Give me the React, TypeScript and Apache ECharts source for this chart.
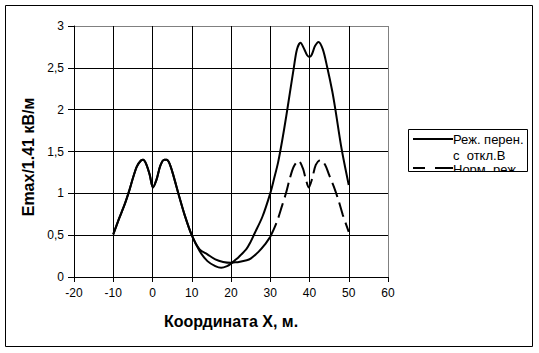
import React, { useEffect, useRef } from "react";
import * as echarts from "echarts";

// Shared part of both curves (they coincide from -10 to 10)
const sharedX = [-10, -8.5, -7, -6, -5, -4, -3, -2.4, -1.6, -0.7, 0.1, 1.0, 2.0, 3.0, 3.6, 4.4, 5.4, 6.7, 8.2, 10];
const sharedY = [0.51, 0.7, 0.88, 1.02, 1.18, 1.32, 1.39, 1.4, 1.35, 1.22, 1.07, 1.16, 1.33, 1.4, 1.4, 1.35, 1.2, 0.98, 0.74, 0.5];

// "Реж. перен. с откл.В" after x = 10
const solidX = [12, 14, 16, 17.5, 19, 20, 21, 22, 24, 25, 26, 28, 30, 31, 32, 33, 34, 35, 36, 36.8, 37.7, 38.7, 39.4, 40, 40.6, 41.4, 42.3, 43.4, 44.5, 45.8, 46.6, 48, 49, 50];
const solidY = [0.31, 0.19, 0.13, 0.11, 0.13, 0.16, 0.2, 0.24, 0.34, 0.42, 0.52, 0.72, 1.0, 1.18, 1.37, 1.62, 1.9, 2.2, 2.5, 2.72, 2.8, 2.72, 2.65, 2.63, 2.66, 2.76, 2.81, 2.72, 2.51, 2.22, 2.0, 1.58, 1.33, 1.1];

// "Норм. реж" from 10 to 30 (drawn continuous in the picture)
const normMidX = [12, 14, 16, 18, 20, 21, 22, 24, 25, 27, 28.5, 30];
const normMidY = [0.33, 0.27, 0.21, 0.18, 0.17, 0.175, 0.18, 0.2, 0.22, 0.3, 0.38, 0.48];

// "Норм. реж" from 30 to 50 (dashed)
const normTailX = [30, 31, 32, 33, 34, 35, 36, 37.2, 38.3, 39, 39.8, 40.7, 41.6, 42.8, 44, 45, 46.2, 47.5, 48.5, 50];
const normTailY = [0.48, 0.58, 0.7, 0.85, 1.0, 1.18, 1.32, 1.39, 1.3, 1.18, 1.07, 1.18, 1.34, 1.4, 1.34, 1.22, 1.08, 0.9, 0.74, 0.54];

const xMin = -20, xMax = 60, xStep = 10;
const yMin = 0, yMax = 3, yStep = 0.5;

const legendNames = ["Реж. перен.", "с  откл.В", "Норм. реж"];
const xTitle = "Координата X, м.";
const yTitle = "Emax/1.41 кВ/м";

const FONT = "'Liberation Sans', Arial, sans-serif";

const zip = (xs: number[], ys: number[]) => xs.map((x, i) => [x, ys[i]]);

export default function App() {
  const ref = useRef<HTMLDivElement>(null);
  useEffect(() => {
    document.body.style.margin = "0";
    if (!ref.current) return;
    const chart = echarts.init(ref.current, undefined, { renderer: "svg" });
    const nX = Math.round((xMax - xMin) / xStep) + 1;
    const nY = Math.round((yMax - yMin) / yStep) + 1;
    const xColors = Array.from({ length: nX }, (_, i) => (i === nX - 1 ? "#808080" : "#000"));
    const yColors = Array.from({ length: nY }, (_, i) => (i === nY - 1 ? "#808080" : "#000"));
    const lineCommon = {
      type: "line",
      smooth: 0.3,
      symbol: "none",
      silent: true,
    };
    chart.setOption({
      animation: false,
      backgroundColor: "#fff",
      grid: { left: 74, right: 151, top: 26, bottom: 76, containLabel: false },
      xAxis: {
        type: "value",
        min: xMin,
        max: xMax,
        interval: xStep,
        axisLine: { show: true, onZero: false, lineStyle: { color: "#000", width: 1 } },
        axisTick: { show: true, length: 5, lineStyle: { color: "#000" } },
        axisLabel: { color: "#000", fontSize: 12, fontFamily: FONT, margin: 10 },
        splitLine: { show: true, lineStyle: { color: xColors, width: 1 } },
        name: xTitle,
        nameLocation: "middle",
        nameGap: 36,
        nameTextStyle: { color: "#000", fontSize: 16, fontWeight: "bold", fontFamily: FONT },
      },
      yAxis: {
        type: "value",
        min: yMin,
        max: yMax,
        interval: yStep,
        axisLine: { show: true, onZero: false, lineStyle: { color: "#000", width: 1 } },
        axisTick: { show: true, length: 6, lineStyle: { color: "#000" } },
        axisLabel: {
          color: "#000",
          fontSize: 12,
          fontFamily: FONT,
          margin: 10,
          formatter: (v: number) => String(v).replace(".", ","),
        },
        splitLine: { show: true, lineStyle: { color: yColors, width: 1 } },
      },
      series: [
        {
          ...lineCommon,
          name: "Реж. перен. с откл.В",
          data: zip(sharedX.concat(solidX), sharedY.concat(solidY)),
          lineStyle: { color: "#000", width: 2 },
        },
        {
          ...lineCommon,
          name: "Норм. реж",
          data: zip(sharedX.concat(normMidX), sharedY.concat(normMidY)),
          lineStyle: { color: "#000", width: 2 },
        },
        {
          ...lineCommon,
          name: "Норм. реж (dashed)",
          data: zip(normTailX, normTailY),
          lineStyle: { color: "#000", width: 2, type: [15, 6] },
        },
      ],
      graphic: [
        {
          type: "rect",
          z: 100,
          shape: { x: 5.5, y: 5.5, width: 527, height: 341 },
          style: { fill: "none", stroke: "#000", lineWidth: 1 },
        },
        {
          type: "text",
          z: 100,
          x: 28,
          y: 157,
          rotation: Math.PI / 2,
          style: {
            text: yTitle,
            fill: "#000",
            font: `bold 16px ${FONT}`,
            textAlign: "center",
            textVerticalAlign: "middle",
          },
        },
        {
          type: "rect",
          z: 101,
          shape: { x: 408.5, y: 129.5, width: 119, height: 42 },
          style: { fill: "#fff", stroke: "none" },
        },
        {
          type: "line",
          z: 102,
          shape: { x1: 413, y1: 139, x2: 453, y2: 139 },
          style: { stroke: "#000", lineWidth: 2 },
        },
        {
          type: "line",
          z: 102,
          shape: { x1: 413, y1: 168, x2: 425, y2: 168 },
          style: { stroke: "#000", lineWidth: 2 },
        },
        {
          type: "line",
          z: 102,
          shape: { x1: 435, y1: 168, x2: 453, y2: 168 },
          style: { stroke: "#000", lineWidth: 2 },
        },
        {
          type: "text",
          z: 102,
          x: 453,
          y: 139,
          style: { text: legendNames[0], fill: "#000", font: `13px ${FONT}`, lineHeight: 12, textVerticalAlign: "middle" },
        },
        {
          type: "text",
          z: 102,
          x: 453,
          y: 155.5,
          style: { text: legendNames[1], fill: "#000", font: `13px ${FONT}`, lineHeight: 11, textVerticalAlign: "middle" },
        },
        {
          type: "text",
          z: 102,
          x: 453,
          y: 169.5,
          style: { text: legendNames[2], fill: "#000", font: `13px ${FONT}`, lineHeight: 11, textVerticalAlign: "middle" },
        },
        {
          type: "rect",
          z: 103,
          shape: { x: 408, y: 172, width: 121, height: 8 },
          style: { fill: "#fff", stroke: "none" },
        },
        {
          type: "rect",
          z: 104,
          shape: { x: 408.5, y: 129.5, width: 119, height: 42 },
          style: { fill: "none", stroke: "#000", lineWidth: 1 },
        },
      ],
    });
    return () => chart.dispose();
  }, []);
  return <div ref={ref} style={{ width: 539, height: 353 }} />;
}
